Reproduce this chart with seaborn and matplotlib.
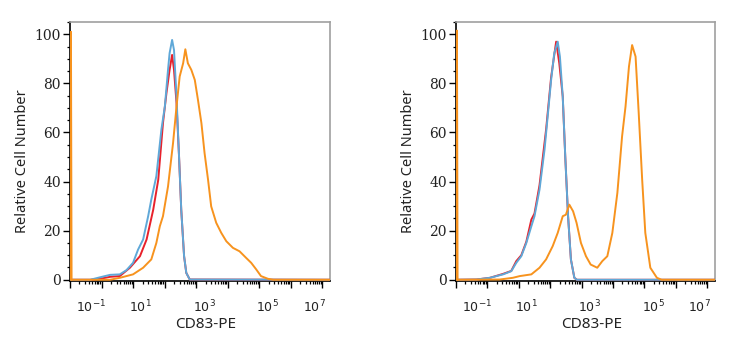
import numpy as np
import pandas as pd
import matplotlib
matplotlib.use("Agg")
import matplotlib.pyplot as plt
import seaborn as sns
from matplotlib.ticker import LogLocator, MultipleLocator, NullFormatter
import matplotlib.transforms as mtransforms

# ---------------- data (x given as log10 fluorescence, y = relative cell number) ----------------
# Left panel
L_red_log = [-1.0, -0.36, -0.05, 0.27, 0.58, 0.90, 1.22, 1.43, 1.64, 1.80, 1.95, 2.06, 2.16, 2.24, 2.30, 2.38, 2.46, 2.53, 2.62, 2.69, 2.80, 7.25]
L_red_y   = [0.0, 0.0, 0.4, 1.2, 1.5, 4.9, 9.6, 16.4, 28.5, 40.7, 63.8, 76.0, 85.5, 91.6, 85.5, 72.0, 50.2, 28.5, 9.6, 2.8, 0.1, 0.0]
L_blue_log = [-1.0, -0.36, -0.05, 0.27, 0.58, 0.79, 1.00, 1.16, 1.32, 1.48, 1.58, 1.74, 1.90, 2.01, 2.11, 2.16, 2.24, 2.30, 2.38, 2.46, 2.53, 2.62, 2.69, 2.80, 7.25]
L_blue_y   = [0.0, 0.0, 1.0, 2.0, 2.2, 3.9, 6.9, 12.3, 16.4, 25.9, 32.7, 42.2, 61.2, 70.6, 85.5, 92.3, 97.7, 93.6, 74.6, 50.2, 28.5, 9.6, 2.8, 0.1, 0.0]
L_orange_log = [-0.97, -0.97, -0.95, 0.27, 0.58, 1.00, 1.32, 1.58, 1.74, 1.85, 1.95, 2.11, 2.27, 2.38, 2.48, 2.59, 2.66, 2.74, 2.85, 2.96, 3.06, 3.17, 3.27, 3.38, 3.48, 3.64, 3.80, 3.96, 4.17, 4.38, 4.59, 4.75, 4.91, 5.06, 5.28, 5.45, 7.25]
L_orange_y   = [0.0, 101.0, 0.0, 0.0, 0.8, 2.2, 4.9, 8.3, 15.0, 21.8, 25.9, 38.0, 55.7, 70.6, 82.8, 88.2, 93.9, 88.2, 85.5, 81.4, 73.3, 63.8, 51.6, 40.8, 29.9, 23.2, 19.1, 15.7, 13.0, 11.6, 8.9, 6.9, 4.2, 1.5, 0.4, 0.0, 0.0]

# Right panel
R_red_log = [-1.0, -0.35, 0.08, 0.50, 0.76, 0.92, 1.08, 1.24, 1.40, 1.50, 1.66, 1.87, 2.03, 2.19, 2.29, 2.40, 2.48, 2.57, 2.66, 2.77, 2.85, 7.25]
R_red_y   = [0.0, 0.1, 0.8, 2.4, 3.6, 7.6, 10.0, 15.5, 24.5, 27.0, 38.5, 61.2, 82.5, 97.0, 88.2, 74.6, 50.2, 25.9, 8.3, 0.8, 0.0, 0.0]
R_blue_log = [-1.0, -0.35, 0.08, 0.50, 0.76, 0.92, 1.08, 1.24, 1.40, 1.50, 1.66, 1.82, 1.92, 2.03, 2.13, 2.24, 2.31, 2.40, 2.48, 2.57, 2.66, 2.77, 2.85, 7.25]
R_blue_y   = [0.0, 0.1, 0.8, 2.2, 3.5, 6.9, 9.6, 15.0, 21.8, 25.9, 36.7, 53.0, 66.5, 81.4, 92.3, 97.0, 90.9, 74.6, 50.2, 25.9, 8.3, 0.8, 0.0, 0.0]
R_orange_log = [-0.97, -0.97, -0.95, 0.39, 0.81, 1.03, 1.40, 1.66, 1.87, 2.08, 2.24, 2.40, 2.50, 2.61, 2.73, 2.84, 2.98, 3.14, 3.29, 3.50, 3.66, 3.82, 3.98, 4.14, 4.29, 4.40, 4.51, 4.61, 4.72, 4.82, 4.93, 5.03, 5.19, 5.40, 5.55, 7.25]
R_orange_y   = [0.0, 101.5, 0.0, 0.1, 0.8, 1.5, 2.2, 4.9, 8.3, 13.7, 19.1, 25.9, 26.5, 30.6, 27.9, 23.2, 15.0, 9.6, 6.2, 4.9, 7.6, 9.6, 19.1, 35.4, 58.4, 70.6, 86.9, 95.6, 90.9, 67.9, 40.8, 19.1, 4.9, 0.8, 0.0, 0.0]

x_label_text = ["$10^{-1}$", "$10^{1}$", "$10^{3}$", "$10^{5}$", "$10^{7}$"]
x_label_pos_log = [-0.32, 1.23, 3.26, 5.28, 6.77]
y_ticks = [0, 20, 40, 60, 80, 100]

RED = "#e8212b"
BLUE = "#5fa8d8"
ORANGE = "#f7931e"

sns.set_theme(style="white")
plt.rcParams["font.family"] = ["DejaVu Serif"]

fig = plt.figure(figsize=(7.34, 3.5), dpi=100)
W, H = 734, 350
axL = fig.add_axes([70 / W, 1 - 281 / H, 260 / W, 259 / H])
axR = fig.add_axes([456 / W, 1 - 281 / H, 259 / W, 259 / H])

panels = [
    (axL, [(L_red_log, L_red_y, RED), (L_blue_log, L_blue_y, BLUE), (L_orange_log, L_orange_y, ORANGE)]),
    (axR, [(R_red_log, R_red_y, RED), (R_blue_log, R_blue_y, BLUE), (R_orange_log, R_orange_y, ORANGE)]),
]

for ax, series in panels:
    for lg, yy, col in series:
        df = pd.DataFrame({"x": np.power(10.0, np.array(lg)), "y": yy})
        sns.lineplot(data=df, x="x", y="y", ax=ax, color=col, linewidth=1.4,
                     sort=False, estimator=None, zorder=3)
    for ln in ax.get_lines():
        ln.set_solid_joinstyle("round")
    ax.set_xscale("log")
    ax.set_xlim(10 ** -1.0, 10 ** 7.25)
    ax.set_ylim(-0.5, 105)
    ax.xaxis.set_major_locator(LogLocator(base=10, numticks=20))
    ax.xaxis.set_minor_locator(LogLocator(base=10, subs=np.arange(2, 10), numticks=200))
    ax.xaxis.set_major_formatter(NullFormatter())
    ax.xaxis.set_minor_formatter(NullFormatter())
    ax.set_yticks(y_ticks)
    ax.yaxis.set_minor_locator(MultipleLocator(5))
    ax.tick_params(axis="both", which="major", direction="out", length=5, width=1.0,
                   color="black", pad=1.5, labelsize=10, bottom=True, left=True)
    ax.tick_params(axis="both", which="minor", direction="out", length=2.5, width=0.9,
                   color="black", bottom=True, left=True)
    for lab in ax.get_yticklabels():
        lab.set_fontfamily("DejaVu Serif")
        lab.set_color("#222222")
    for s in ["left", "bottom"]:
        ax.spines[s].set_color("black")
        ax.spines[s].set_linewidth(1.2)
    for s in ["top", "right"]:
        ax.spines[s].set_color("#a0a0a0")
        ax.spines[s].set_linewidth(1.2)
    trans = mtransforms.blended_transform_factory(ax.transData, ax.transAxes)
    for t, p in zip(x_label_text, x_label_pos_log):
        ax.text(10 ** p, -0.12, t, transform=trans, ha="center", va="baseline",
                fontsize=9, family="DejaVu Serif", color="#222222")
    ax.set_xlabel("CD83-PE", fontsize=11, family="Noto Sans", color="#222222")
    ax.set_ylabel("Relative Cell Number", fontsize=10.5, family="Noto Sans", color="#222222")
    ax.xaxis.set_label_coords(0.523, -0.14)
    ax.yaxis.set_label_coords(-0.153, 0.462)
    ax.grid(False)

fig.savefig("out.png", dpi=100)
